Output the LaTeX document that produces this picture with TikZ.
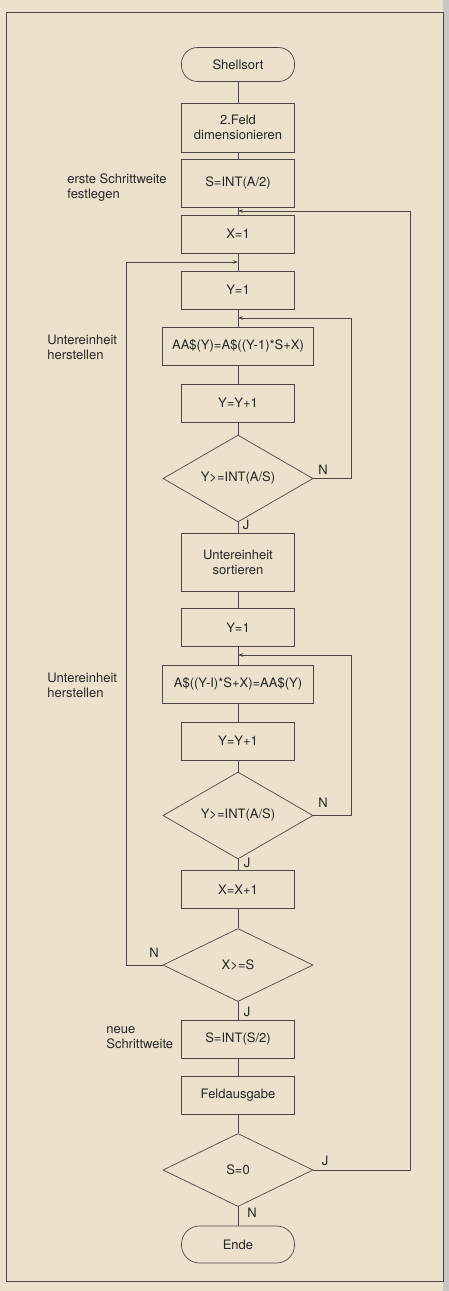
\documentclass[tikz,border=0pt]{standalone}
\usepackage{fontspec}
\setmainfont{TeX Gyre Heros}
\usepackage{tikz}
\usetikzlibrary{shapes.geometric, arrows.meta, calc}
\definecolor{papier}{HTML}{EBE1CD}
\definecolor{strich}{HTML}{4D4843}

\begin{document}
\begin{tikzpicture}[x=1pt,y=-1pt,font=\fontsize{13}{15}\selectfont,
    line width=0.7pt,color=strich,text=black!85,
    kasten/.style={rectangle,draw,minimum width=113pt,minimum height=38pt,inner sep=0,align=center},
    breit/.style={kasten,minimum width=151pt},
    raute/.style={diamond,draw,minimum width=150pt,minimum height=73pt,inner sep=0},
    grenze/.style={kasten,rounded corners=16pt,minimum height=34pt},
    notiz/.style={anchor=west,align=left,inner sep=0},
    pfeil/.style={-{Stealth[length=5pt,width=3.5pt]}}]

  % Seite und Rahmen
  \fill[papier] (0,0) rectangle (449,1291);
  \fill[gray!45] (443,0) rectangle (449,1291);
  \useasboundingbox (0,0) rectangle (449,1291);
  \draw[line width=0.8pt] (6,12) rectangle (443,1281);

  % Hauptstrang
  \node[grenze] (start) at (238,64.5) {Shellsort};
  \node[kasten,minimum height=49pt] (feld) at (238,127.5) {2.Feld\\dimensionieren};
  \node[kasten,minimum height=48pt] (s1) at (238,183) {S=INT(A/2)};
  \node[kasten] (x1) at (238,234) {X=1};
  \node[kasten] (y1) at (238,290) {Y=1};
  \node[breit] (aa1) at (238,346) {AA\$(Y)=A\$((Y-1)*S+X)};
  \node[kasten] (yy1) at (238,403) {Y=Y+1};
  \node[raute] (d1) at (238,478.5) {Y>=INT(A/S)};
  \node[kasten,minimum height=58pt] (sort) at (238,562) {Untereinheit\\sortieren};
  \node[kasten] (y2) at (238,627.5) {Y=1};
  \node[breit] (aa2) at (238,684) {A\$((Y-I)*S+X)=AA\$(Y)};
  \node[kasten] (yy2) at (238,741) {Y=Y+1};
  \node[raute] (d2) at (238,815.5) {Y>=INT(A/S)};
  \node[kasten] (xx) at (238,889.5) {X=X+1};
  \node[raute] (d3) at (238,965) {X>=S};
  \node[kasten] (s2) at (238,1039) {S=INT(S/2)};
  \node[kasten] (aus) at (238,1095) {Feldausgabe};
  \node[raute] (d4) at (238,1170) {S=0};
  \node[grenze,minimum height=37pt,rounded corners=18pt] (ende) at (238,1244.5) {Ende};

  \foreach \a/\b in {start/feld,feld/s1,s1/x1,x1/y1,y1/aa1,aa1/yy1,yy1/d1,d1/sort,
      sort/y2,y2/aa2,aa2/yy2,yy2/d2,d2/xx,xx/d3,d3/s2,s2/aus,aus/d4,d4/ende}
    \draw (\a) -- (\b);

  % Einmuendungen der Schleifen
  \coordinate (m1) at (238,211);
  \coordinate (m2) at (238,262);
  \coordinate (m3) at (238,318);
  \coordinate (m4) at (238,655);
  \coordinate (r1) at (351,0);
  \coordinate (r2) at (410,0);
  \coordinate (l1) at (126,0);

  \draw[pfeil] (d1.east) -| (r1 |- m3) -- (m3);
  \draw[pfeil] (d2.east) -| (r1 |- m4) -- (m4);
  \draw[pfeil] (d3.west) -| (l1 |- m2) -- (m2);
  \draw[pfeil] (d4.east) -| (r2 |- m1) -- (m1);

  % J/N an den Verzweigungen
  \node (n1) at (323,470) {N};
  \node (j1) at (246,525) {J};
  \node (n2) at (323,803) {N};
  \node (j2) at (247,863) {J};
  \node (n3) at (154,953) {N};
  \node (j3) at (247,1012) {J};
  \node (j4) at (325,1161) {J};
  \node (n4) at (252,1213) {N};

  % Randbemerkungen
  \node[notiz] (erste) at (67,187.5) {erste Schrittweite\\festlegen};
  \node[notiz] (unter1) at (47,347.5) {Untereinheit\\herstellen};
  \node[notiz] (unter2) at (47,685.5) {Untereinheit\\herstellen};
  \node[notiz] (neue) at (106,1038) {neue\\Schrittweite};
\end{tikzpicture}
\end{document}
